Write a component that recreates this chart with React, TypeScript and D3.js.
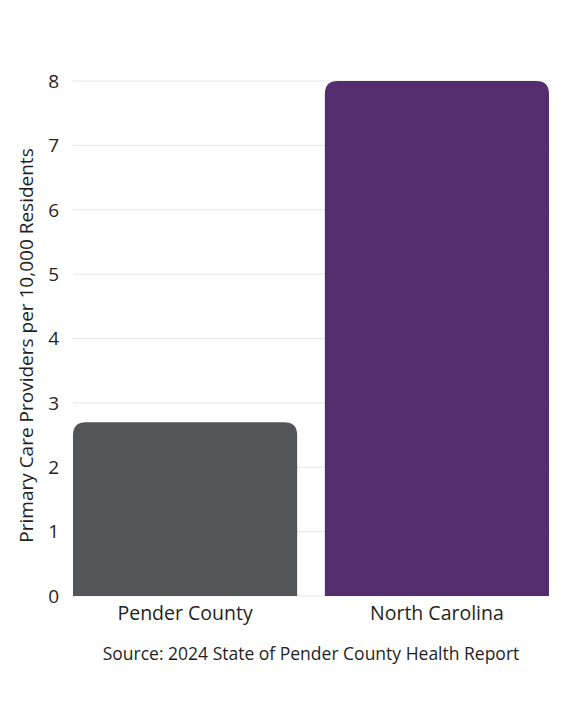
import React, { useRef, useEffect } from 'react';
import * as d3 from 'd3';

const categories = ['Pender County', 'North Carolina'];
const values = [2.7, 8.0];
const barColors = ['#535559', '#532d6d'];
const yTicks = [0, 1, 2, 3, 4, 5, 6, 7, 8];
const yTitle = 'Primary Care Providers per 10,000 Residents';
const sourceNote = 'Source: 2024 State of Pender County Health Report';

const App = () => {
  const svgRef = useRef<SVGSVGElement>(null);

  useEffect(() => {
    const width = 568;
    const height = 710;
    const margin = { top: 81, right: 19, bottom: 114, left: 73 };
    const font = "'Open Sans', 'Noto Sans', sans-serif";

    const svg = d3.select(svgRef.current)
      .attr('width', width)
      .attr('height', height)
      .style('display', 'block')
      .style('position', 'absolute')
      .style('left', 0)
      .style('top', 0);
    svg.selectAll('*').remove();

    svg.append('rect').attr('width', width).attr('height', height).attr('fill', '#fff');

    const x = d3.scaleBand()
      .domain(categories)
      .range([margin.left, width - margin.right])
      .paddingInner(0.11)
      .paddingOuter(0);

    const y = d3.scaleLinear()
      .domain([0, 8])
      .range([height - margin.bottom, margin.top]);

    // grid lines
    svg.append('g')
      .selectAll('line')
      .data(yTicks)
      .enter().append('line')
      .attr('x1', margin.left)
      .attr('x2', width - margin.right + 1)
      .attr('y1', d => y(d))
      .attr('y2', d => y(d))
      .attr('stroke', '#e6e6e6')
      .attr('stroke-width', 1);

    // tick labels
    svg.append('g')
      .selectAll('text')
      .data(yTicks)
      .enter().append('text')
      .attr('x', 59)
      .attr('y', d => y(d))
      .attr('dy', '0.36em')
      .attr('text-anchor', 'end')
      .attr('font-family', font)
      .attr('font-size', 19)
      .attr('fill', '#1f1f1f')
      .text(d => d);

    // bars with rounded top corners
    const r = 13;
    svg.append('g')
      .selectAll('path')
      .data(categories)
      .enter().append('path')
      .attr('fill', (d, i) => barColors[i])
      .attr('d', (d, i) => {
        const x0 = x(d)!;
        const x1 = x0 + x.bandwidth();
        const yt = y(values[i]);
        const yb = y(0);
        return `M${x0},${yb} L${x0},${yt + r} Q${x0},${yt} ${x0 + r},${yt} L${x1 - r},${yt} Q${x1},${yt} ${x1},${yt + r} L${x1},${yb} Z`;
      });

    // category labels
    svg.append('g')
      .selectAll('text')
      .data(categories)
      .enter().append('text')
      .attr('x', d => x(d)! + x.bandwidth() / 2)
      .attr('y', height - margin.bottom + 24)
      .attr('text-anchor', 'middle')
      .attr('font-family', font)
      .attr('font-size', 19.5)
      .attr('fill', '#1f1f1f')
      .text(d => d);

    // y axis title
    svg.append('text')
      .attr('transform', `translate(33, ${(y(0) + y(8)) / 2 + 7}) rotate(-90)`)
      .attr('text-anchor', 'middle')
      .attr('font-family', font)
      .attr('font-size', 19)
      .attr('fill', '#1f1f1f')
      .text(yTitle);

    // source
    svg.append('text')
      .attr('x', 311)
      .attr('y', 660)
      .attr('text-anchor', 'middle')
      .attr('font-family', font)
      .attr('font-size', 17.5)
      .attr('fill', '#1f1f1f')
      .text(sourceNote);
  }, []);

  return <svg ref={svgRef}></svg>;
};

export default App;
